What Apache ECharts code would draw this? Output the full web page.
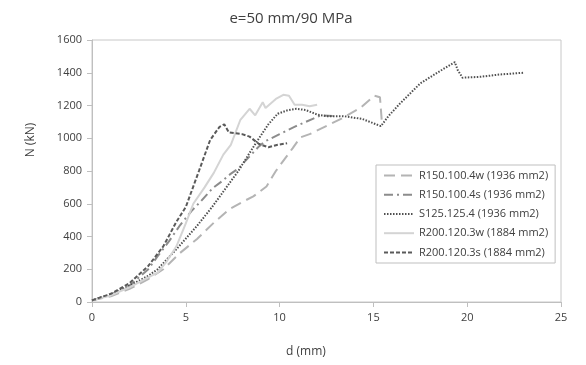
<!DOCTYPE html>
<html><head><meta charset="utf-8">
<script src="https://cdn.jsdelivr.net/npm/echarts@6/dist/echarts.min.js"></script>
<style>html,body{margin:0;padding:0;background:#fff}#c{width:586px;height:365px}</style>
</head><body><div id="c"></div>
<script>
const titleText = "e=50 mm/90 MPa";
const xName = "d (mm)";
const yName = "N (kN)";
const xTicks = [0, 5, 10, 15, 20, 25];
const yTicks = [0, 200, 400, 600, 800, 1000, 1200, 1400, 1600];
const seriesNames = ["R150.100.4w (1936 mm2)", "R150.100.4s (1936 mm2)", "S125.125.4 (1936 mm2)", "R200.120.3w (1884 mm2)", "R200.120.3s (1884 mm2)"];

const r150w = [[0,10],[1,35],[2,80],[3,140],[3.8,200],[4.7,300],[5.6,385],[6.5,485],[7.3,565],[8,610],[8.6,645],[9.3,705],[9.8,800],[10.7,940],[11.1,1005],[11.6,1025],[12.4,1070],[13.3,1120],[14.3,1185],[15.05,1260],[15.35,1250],[15.45,1100]];
const r150s = [[0,10],[1,45],[2,100],[3,200],[3.5,280],[4.1,370],[4.7,470],[5.3,555],[5.8,615],[6.45,697],[6.9,735],[7.35,779],[7.8,815],[8.2,865],[8.9,950],[9.2,980],[10,1025],[10.9,1075],[11.8,1120],[12.2,1140],[12.85,1135]];
const s125 = [[0,10],[1,45],[2,100],[3,160],[3.5,200],[4.6,335],[5.6,465],[6.4,580],[7.1,690],[7.8,800],[8.4,910],[8.9,1000],[9.4,1085],[9.9,1150],[10.4,1170],[10.9,1180],[11.4,1172],[12,1145],[12.5,1135],[13.4,1135],[14.4,1118],[15.4,1074],[15.8,1135],[16.4,1210],[17.5,1335],[18.4,1400],[19.34,1465],[19.5,1415],[19.75,1370],[20.7,1375],[21.7,1389],[23,1400]];
const r200w = [[0,10],[1,40],[2,90],[3,150],[3.5,180],[4,250],[4.5,340],[5,480],[5.4,600],[6,700],[6.5,790],[7,900],[7.4,960],[7.9,1110],[8.4,1180],[8.7,1140],[9.1,1220],[9.25,1185],[9.8,1240],[10.2,1265],[10.5,1260],[10.8,1205],[11.2,1205],[11.6,1195],[12,1205]];
const r200s = [[0,10],[1,50],[2,115],[3,220],[3.8,340],[4.5,490],[5,580],[5.7,800],[6.3,990],[6.8,1070],[7.05,1085],[7.3,1035],[8,1025],[8.4,1010],[8.9,965],[9.4,945],[9.9,960],[10.4,970]];

const datasets = [r150w, r150s, s125, r200w, r200s];
const styles = [
  {color:'#b4b4b4', type:[11,6], width:2},
  {color:'#8c8c8c', type:[9,4,2,4], width:2},
  {color:'#505050', type:[1.5,1.5], width:2},
  {color:'#d4d4d4', type:'solid', width:2},
  {color:'#5a5a5a', type:[4,2], width:2}
];
const font = "'Open Sans', 'Liberation Sans', sans-serif";
const chart = echarts.init(document.getElementById('c'), null, {renderer:'canvas'});
chart.setOption({
  animation:false,
  backgroundColor:'#fff',
  grid:{left:92, right:25, top:40, bottom:63, show:true, borderColor:'#c8c8c8', borderWidth:1},
  title:{text:titleText, left:286, top:6, textAlign:'center', textStyle:{fontFamily:font, fontSize:15, fontWeight:'normal', color:'#404040'}},
  graphic:[
    {type:'text', position:[306,346], style:{text:xName, font:"12px " + font, fill:'#404040', textAlign:'center'}},
    {type:'text', rotation:Math.PI/2, position:[31,140], style:{text:yName, font:"12px " + font, fill:'#404040', textAlign:'center', textVerticalAlign:'middle'}}
  ],
  legend:{
    orient:'vertical', left:376, top:165, padding:[5,7,5,7],
    itemWidth:30, itemHeight:14, itemGap:8,
    borderColor:'#bfbfbf', borderWidth:1, backgroundColor:'#fff',
    itemStyle:{opacity:0},
    textStyle:{fontFamily:font, fontSize:11, color:'#404040'},
    data:seriesNames
  },
  xAxis:{type:'value', min:0, max:25, interval:5,
    axisLine:{lineStyle:{color:'#bfbfbf'}}, axisTick:{show:true, length:5, lineStyle:{color:'#bfbfbf'}},
    splitLine:{show:false}, axisLabel:{fontFamily:font, fontSize:11, color:'#404040', margin:10,
      formatter:v=>xTicks.includes(v)?String(v):''}},
  yAxis:{type:'value', min:0, max:1600, interval:200,
    axisLine:{show:true, lineStyle:{color:'#bfbfbf'}}, axisTick:{show:true, length:5, lineStyle:{color:'#bfbfbf'}},
    splitLine:{show:false}, axisLabel:{fontFamily:font, fontSize:11, color:'#404040', margin:10,
      formatter:v=>yTicks.includes(v)?String(v):''}},
  series: datasets.map((d,i)=>({
    name:seriesNames[i], type:'line', data:d, symbol:'none', showSymbol:false,
    lineStyle:styles[i], itemStyle:{color:styles[i].color}
  }))
});
</script></body></html>
